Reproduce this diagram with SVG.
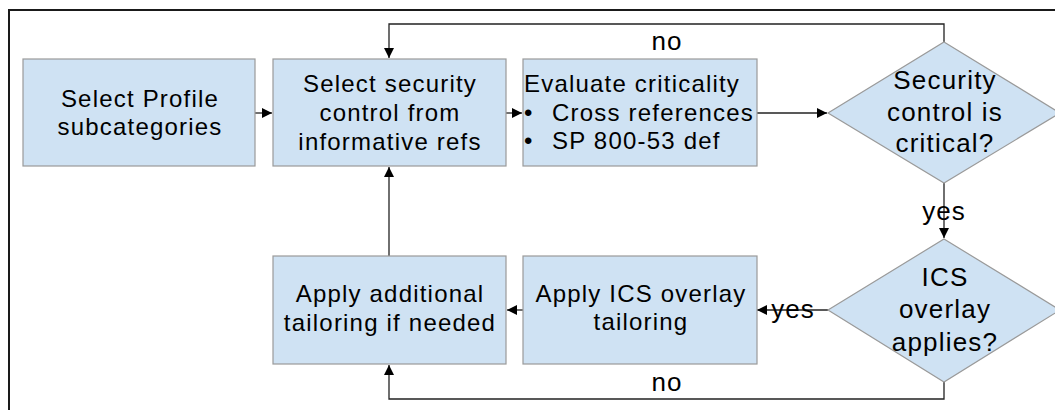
<svg xmlns="http://www.w3.org/2000/svg" width="1055" height="410" viewBox="0 0 1055 410">
<style>
.nd{fill:#cfe2f3;stroke:#9a9a9a;stroke-width:1.2}
.t{font-family:"Liberation Sans",Arial,sans-serif;font-size:24px;fill:#000;text-anchor:middle;letter-spacing:1.2px}
.td{font-family:"Liberation Sans",Arial,sans-serif;font-size:26px;fill:#000;text-anchor:middle;letter-spacing:1.2px}
.tl{font-family:"Liberation Sans",Arial,sans-serif;font-size:24px;fill:#000;letter-spacing:1.2px}
.lb{font-family:"Liberation Sans",Arial,sans-serif;font-size:26px;fill:#000;text-anchor:middle;letter-spacing:1px}
.c{fill:none;stroke:#222;stroke-width:1.3}
</style>
<defs>
<marker id="ah" viewBox="0 0 10 10" refX="10" refY="5" markerWidth="10" markerHeight="10" markerUnits="userSpaceOnUse" orient="auto">
<path d="M0,0 L10,5 L0,10 z" fill="#000"/>
</marker>
</defs>
<rect width="1055" height="410" fill="#fff"/>
<path d="M9,410 V10 H1055" fill="none" stroke="#1a1a1a" stroke-width="2"/>
<g id="connectors">
<path class="c" d="M255,113 H272" marker-end="url(#ah)"/>
<path class="c" d="M506,113 H522" marker-end="url(#ah)"/>
<path class="c" d="M757,113 H827" marker-end="url(#ah)"/>
<path class="c" d="M944,42 V24 H389 V58" marker-end="url(#ah)"/>
<path class="c" d="M944,183 V238" marker-end="url(#ah)"/>
<path class="c" d="M828,310 H757" marker-end="url(#ah)"/>
<path class="c" d="M523,310 H507" marker-end="url(#ah)"/>
<path class="c" d="M389,256 V167" marker-end="url(#ah)"/>
<path class="c" d="M944,382 V399 H389 V365" marker-end="url(#ah)"/>
<text class="lb" x="667" y="50">no</text>
<text class="lb" x="944" y="220">yes</text>
<text class="lb" x="793" y="318">yes</text>
<text class="lb" x="667" y="391">no</text>
</g>
<g id="select-profile">
<rect class="nd" x="23" y="59" width="232" height="107"/>
<text class="t" x="140" y="107">Select Profile</text>
<text class="t" x="140" y="135">subcategories</text>
</g>
<g id="select-control">
<rect class="nd" x="273" y="59" width="233" height="107"/>
<text class="t" x="390" y="92">Select security</text>
<text class="t" x="390" y="121">control from</text>
<text class="t" x="390" y="150">informative refs</text>
</g>
<g id="evaluate">
<rect class="nd" x="523" y="59" width="234" height="107"/>
<text class="tl" x="524" y="92">Evaluate criticality</text>
<text class="tl" x="524" y="121">•</text>
<text class="tl" x="552" y="121">Cross references</text>
<text class="tl" x="524" y="149">•</text>
<text class="tl" x="552" y="149">SP 800-53 def</text>
</g>
<g id="critical">
<path class="nd" d="M944,42 L1060,113 L944,183 L828,113 Z"/>
<text class="td" x="945" y="89">Security</text>
<text class="td" x="945" y="121">control is</text>
<text class="td" x="945" y="152">critical?</text>
</g>
<g id="overlay-applies">
<path class="nd" d="M944,239 L1060,310 L944,382 L828,310 Z"/>
<text class="td" x="945" y="286">ICS</text>
<text class="td" x="945" y="318">overlay</text>
<text class="td" x="945" y="351">applies?</text>
</g>
<g id="apply-ics">
<rect class="nd" x="523" y="256" width="234" height="108"/>
<text class="t" x="641" y="302">Apply ICS overlay</text>
<text class="t" x="641" y="330">tailoring</text>
</g>
<g id="apply-additional">
<rect class="nd" x="273" y="256" width="233" height="108"/>
<text class="t" x="390" y="302">Apply additional</text>
<text class="t" x="390" y="331">tailoring if needed</text>
</g>
</svg>
